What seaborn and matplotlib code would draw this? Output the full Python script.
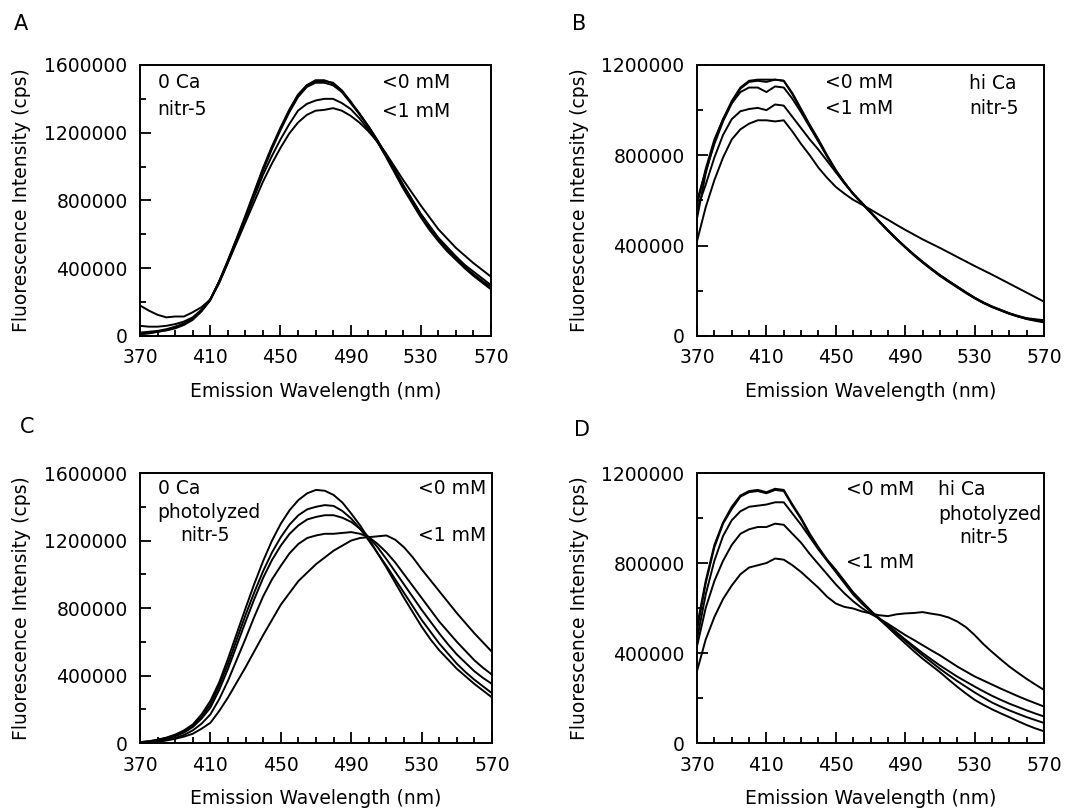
import numpy as np
import pandas as pd
import matplotlib
matplotlib.use("Agg")
import matplotlib.pyplot as plt
from matplotlib.ticker import FixedLocator, MultipleLocator
import seaborn as sns

# -------------------------------
# Data (fluorescence in thousands of cps)
# -------------------------------
wavelength = list(range(370, 571, 5))

# A: 0 Ca, nitr-5
a1 = [10, 15, 25, 35, 50, 70, 100, 150, 215, 320, 440, 570, 700, 840, 980, 1110, 1220, 1330, 1420, 1480, 1510,
      1510, 1490, 1445, 1380, 1315, 1240, 1160, 1070, 975, 880, 795, 710, 635, 570, 510, 455, 405, 360, 320, 280]
a2 = [15, 18, 25, 33, 45, 65, 95, 145, 210, 320, 445, 575, 710, 850, 990, 1115, 1230, 1335, 1425, 1480, 1505,
      1505, 1495, 1450, 1385, 1310, 1235, 1150, 1060, 965, 870, 785, 700, 625, 560, 500, 450, 400, 355, 315, 275]
a3 = [20, 25, 30, 40, 55, 75, 100, 150, 215, 315, 435, 565, 695, 835, 975, 1100, 1215, 1320, 1410, 1470, 1495,
      1495, 1480, 1440, 1375, 1310, 1240, 1160, 1075, 985, 890, 805, 720, 645, 575, 515, 460, 410, 365, 325, 290]
a4 = [60, 55, 55, 60, 70, 85, 110, 155, 215, 320, 440, 565, 690, 820, 950, 1060, 1160, 1250, 1330, 1370, 1390,
      1400, 1400, 1375, 1340, 1285, 1220, 1150, 1070, 980, 890, 805, 720, 650, 580, 525, 470, 420, 380, 340, 300]
a5 = [180, 150, 125, 110, 115, 115, 140, 170, 215, 310, 430, 550, 670, 790, 910, 1015, 1110, 1195, 1260, 1305, 1330,
      1335, 1345, 1330, 1300, 1260, 1210, 1150, 1080, 1000, 920, 845, 770, 700, 630, 575, 520, 475, 430, 390, 350]

# B: hi Ca, nitr-5
b1 = [520, 720, 860, 960, 1040, 1100, 1130, 1135, 1135, 1135, 1130, 1070, 1000, 930, 865, 795, 733, 680, 630, 590, 549,
      508, 468, 430, 394, 360, 328, 298, 269, 243, 218, 193, 169, 148, 130, 115, 100, 87, 75, 67, 60]
b2 = [580, 740, 870, 960, 1030, 1095, 1125, 1130, 1125, 1135, 1130, 1075, 1005, 935, 870, 800, 735, 678, 628, 587, 546,
      506, 466, 428, 392, 357, 325, 295, 266, 240, 215, 190, 167, 146, 128, 113, 98, 86, 76, 70, 65]
b3 = [600, 730, 850, 950, 1030, 1080, 1100, 1100, 1080, 1105, 1100, 1050, 990, 925, 860, 795, 730, 678, 630, 588, 548,
      507, 467, 429, 393, 359, 327, 297, 268, 242, 217, 192, 168, 147, 129, 114, 99, 87, 77, 72, 68]
b4 = [560, 670, 790, 890, 960, 995, 1005, 1010, 1000, 1025, 1020, 970, 920, 870, 825, 775, 725, 675, 630, 590, 549,
      508, 468, 431, 395, 361, 329, 299, 270, 244, 219, 194, 170, 149, 131, 116, 101, 89, 79, 74, 70]
b5 = [420, 570, 690, 790, 870, 915, 940, 955, 955, 950, 955, 905, 850, 800, 745, 700, 660, 630, 603, 582, 560,
      537, 515, 492, 470, 449, 428, 409, 390, 370, 350, 330, 310, 291, 272, 252, 232, 212, 192, 172, 152]

# C: 0 Ca, photolyzed nitr-5
c1 = [5, 10, 20, 32, 50, 75, 110, 170, 250, 360, 500, 650, 800, 945, 1080, 1200, 1300, 1380, 1440, 1480, 1500,
      1495, 1470, 1425, 1360, 1290, 1210, 1125, 1040, 950, 860, 775, 690, 615, 550, 495, 440, 395, 350, 310, 270]
c2 = [5, 10, 18, 30, 45, 68, 100, 155, 230, 340, 470, 615, 760, 895, 1020, 1130, 1220, 1295, 1350, 1385, 1400,
      1410, 1405, 1375, 1330, 1270, 1200, 1125, 1050, 970, 890, 810, 730, 660, 590, 530, 470, 420, 375, 335, 295]
c3 = [5, 8, 15, 26, 40, 62, 95, 145, 210, 315, 440, 580, 720, 855, 980, 1085, 1170, 1240, 1290, 1325, 1340,
      1350, 1350, 1335, 1310, 1270, 1220, 1160, 1090, 1015, 940, 865, 790, 720, 650, 585, 525, 475, 425, 385, 350]
c4 = [3, 6, 10, 18, 30, 48, 75, 115, 170, 260, 370, 495, 620, 750, 870, 970, 1050, 1125, 1180, 1215, 1230,
      1240, 1240, 1245, 1250, 1240, 1220, 1180, 1130, 1070, 1000, 930, 860, 790, 720, 660, 600, 545, 490, 445, 405]
c5 = [2, 4, 8, 15, 25, 38, 55, 85, 120, 190, 270, 360, 450, 545, 640, 730, 820, 890, 960, 1010, 1060,
      1100, 1140, 1170, 1200, 1215, 1220, 1225, 1230, 1205, 1160, 1100, 1030, 965, 900, 835, 770, 710, 650, 595, 540]

# D: hi Ca, photolyzed nitr-5
d1 = [520, 720, 880, 980, 1050, 1100, 1120, 1125, 1115, 1130, 1125, 1060, 1000, 930, 870, 815, 770, 720, 670, 630, 590,
      550, 515, 478, 443, 408, 375, 345, 315, 282, 250, 220, 192, 170, 150, 132, 115, 97, 80, 65, 52]
d2 = [500, 710, 870, 975, 1040, 1095, 1115, 1120, 1110, 1125, 1120, 1055, 995, 925, 865, 812, 765, 715, 665, 625, 588,
      553, 520, 487, 455, 422, 390, 360, 330, 302, 275, 250, 225, 202, 180, 162, 145, 130, 115, 102, 89]
d3 = [460, 660, 810, 920, 990, 1030, 1050, 1055, 1060, 1070, 1070, 1020, 970, 915, 860, 810, 760, 710, 660, 620, 585,
      555, 525, 492, 460, 430, 400, 372, 345, 320, 295, 273, 251, 230, 210, 192, 175, 160, 145, 131, 118]
d4 = [430, 600, 720, 810, 880, 930, 950, 960, 960, 975, 970, 930, 890, 840, 795, 750, 705, 665, 630, 600, 575,
      553, 530, 505, 480, 458, 435, 412, 390, 365, 340, 318, 296, 278, 260, 242, 225, 208, 192, 177, 162]
d5 = [320, 460, 560, 640, 700, 750, 780, 790, 800, 820, 815, 790, 760, 725, 690, 650, 620, 605, 598, 585, 576,
      568, 564, 572, 576, 578, 582, 575, 569, 558, 540, 515, 480, 440, 405, 372, 340, 312, 285, 260, 236]

panels = [
    ("A", [a1, a2, a3, a4, a5], 1600000,
     [(0.05, 0.935, "0 Ca"), (0.05, 0.835, "nitr-5"), (0.69, 0.935, "<0 mM"), (0.69, 0.83, "<1 mM")]),
    ("B", [b1, b2, b3, b4, b5], 1200000,
     [(0.37, 0.935, "<0 mM"), (0.37, 0.84, "<1 mM"), (0.785, 0.93, "hi Ca"), (0.785, 0.84, "nitr-5")]),
    ("C", [c1, c2, c3, c4, c5], 1600000,
     [(0.05, 0.944, "0 Ca"), (0.05, 0.852, "photolyzed"), (0.113, 0.77, "nitr-5"),
      (0.79, 0.941, "<0 mM"), (0.79, 0.77, "<1 mM")]),
    ("D", [d1, d2, d3, d4, d5], 1200000,
     [(0.43, 0.94, "<0 mM"), (0.695, 0.94, "hi Ca"), (0.695, 0.848, "photolyzed"),
      (0.755, 0.763, "nitr-5"), (0.43, 0.67, "<1 mM")]),
]

# -------------------------------
# Style
# -------------------------------
sns.set_style("ticks")
plt.rcParams["font.family"] = ["DejaVu Sans"]
plt.rcParams["text.color"] = "black"
plt.rcParams["axes.labelcolor"] = "black"
plt.rcParams["axes.linewidth"] = 1.4

fig = plt.figure(figsize=(10.83, 8.10), dpi=100)
positions = [
    [0.1293, 0.5852, 0.3241, 0.3346],
    [0.6436, 0.5852, 0.3204, 0.3346],
    [0.1293, 0.0827, 0.3250, 0.3333],
    [0.6436, 0.0827, 0.3204, 0.3333],
]
letter_pos = [(0.013, 0.970), (0.528, 0.970), (0.018, 0.473), (0.530, 0.469)]

for (letter, curves, ymax, notes), pos, lp in zip(panels, positions, letter_pos):
    ax = fig.add_axes(pos)
    rows = []
    for i, c in enumerate(curves):
        for w, v in zip(wavelength, c):
            rows.append({"wl": w, "cps": v * 1000, "curve": i})
    df = pd.DataFrame(rows)
    sns.lineplot(data=df, x="wl", y="cps", units="curve", estimator=None,
                 color="black", linewidth=1.4, ax=ax)

    ax.set_xlim(370, 570)
    ax.set_ylim(0, ymax)
    ax.xaxis.set_major_locator(FixedLocator(list(range(370, 571, 40))))
    ax.xaxis.set_minor_locator(FixedLocator(list(range(370, 571, 10))))
    ax.yaxis.set_major_locator(MultipleLocator(400000))
    ax.yaxis.set_minor_locator(MultipleLocator(200000))
    ax.yaxis.set_major_formatter(plt.FuncFormatter(lambda v, p: f"{int(v)}"))
    ax.tick_params(which="both", direction="in", top=False, right=False,
                   width=1.3, labelsize=13.5, colors="black")
    ax.tick_params(which="major", length=8, pad=9)
    ax.tick_params(which="minor", length=4)
    for s in ax.spines.values():
        s.set_visible(True)
        s.set_linewidth(1.4)
        s.set_color("black")

    ax.set_xlabel("Emission Wavelength (nm)", fontsize=13.5, color="black")
    ax.set_ylabel("Fluorescence Intensity (cps)", fontsize=13.5, color="black")
    ax.xaxis.set_label_coords(0.5, -0.17)
    ax.yaxis.set_label_coords(-0.31, 0.5)

    for x, y, t in notes:
        ax.text(x, y, t, transform=ax.transAxes, fontsize=13.5,
                ha="left", va="center", color="black")

    fig.text(lp[0], lp[1], letter, fontsize=15, ha="left", va="center", color="black")

fig.savefig("out.png", dpi=100)
